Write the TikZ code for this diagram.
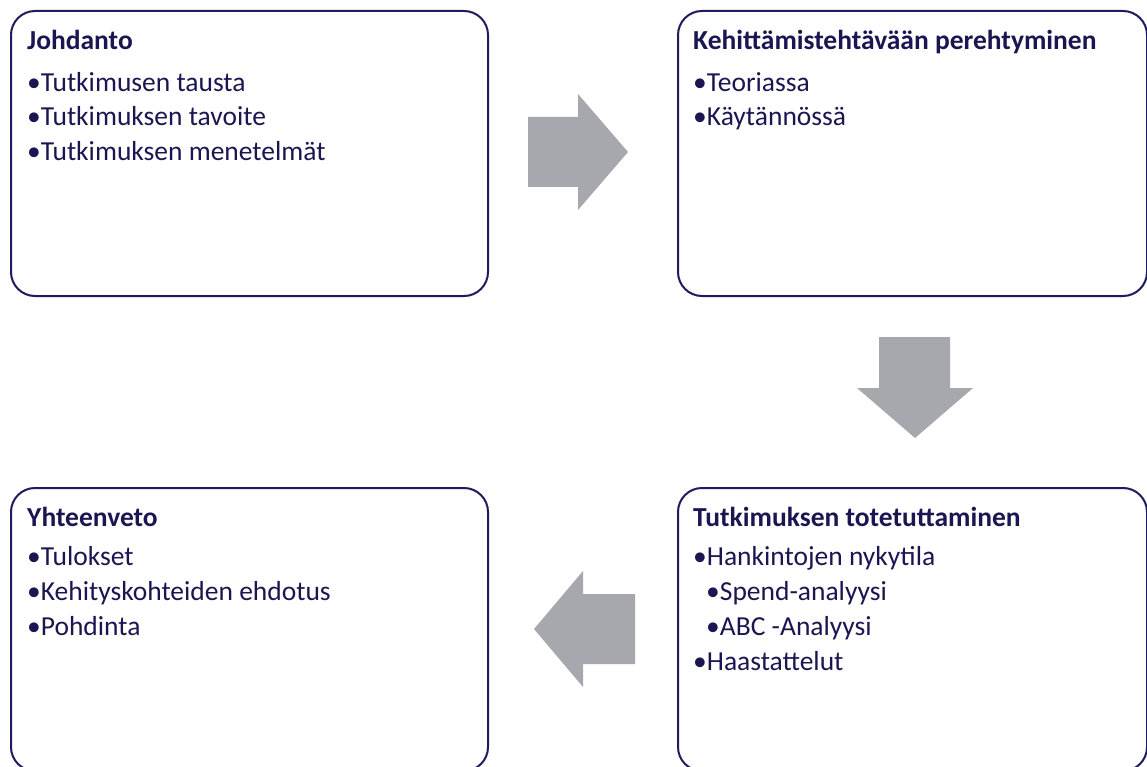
\documentclass[tikz,border=0pt]{standalone}
\usepackage{fontspec}
\setmainfont{Carlito}
\definecolor{frame}{RGB}{30,27,94}
\definecolor{ink}{RGB}{26,22,82}
\definecolor{arrowgray}{RGB}{167,168,173}
\begin{document}
\begin{tikzpicture}[x=1pt,y=-1pt,
  box/.style={draw=frame, line width=2pt, rounded corners=24pt, fill=white,
    inner sep=0pt, anchor=north west},
  title/.style={anchor=base west, inner sep=0pt, text=ink,
    font=\fontsize{27.5}{33}\selectfont\bfseries},
  item/.style={anchor=base west, inner sep=0pt, text=ink,
    font=\fontsize{27.5}{33}\selectfont},
  blockarrow/.style={fill=arrowgray, draw=none}]
\useasboundingbox (0,0) rectangle (1147,767);
\begin{scope}
\clip (0,0) rectangle (1147,767);

% the four stages
\node[box, minimum width=477pt, minimum height=285pt] (intro) at (10,10) {};
\node[box, minimum width=469pt, minimum height=285pt] (study) at (677,10) {};
\node[box, minimum width=469pt, minimum height=283pt] (exec) at (677,487) {};
\node[box, minimum width=477pt, minimum height=283pt] (summary) at (10,487) {};

% Johdanto
\node[title] (introT) at (27,50) {Johdanto};
\node[item] (intro1) at (27,92) {•Tutkimusen tausta};
\node[item] (intro2) at (27,126) {•Tutkimuksen tavoite};
\node[item] (intro3) at (27,161) {•Tutkimuksen menetelmät};

% Kehittämistehtävään perehtyminen
\node[title] (studyT) at (693,50) {Kehittämistehtävään perehtyminen};
\node[item] (study1) at (693,92) {•Teoriassa};
\node[item] (study2) at (693,126) {•Käytännössä};

% Tutkimuksen totetuttaminen
\node[title] (execT) at (693,526) {Tutkimuksen totetuttaminen};
\node[item] (exec1) at (693,565) {•Hankintojen nykytila};
\node[item] (exec2) at (706,600) {•Spend-analyysi};
\node[item] (exec3) at (706,635) {•ABC -Analyysi};
\node[item] (exec4) at (693,670) {•Haastattelut};

% Yhteenveto
\node[title] (summaryT) at (27,526) {Yhteenveto};
\node[item] (summary1) at (27,565) {•Tulokset};
\node[item] (summary2) at (27,600) {•Kehityskohteiden ehdotus};
\node[item] (summary3) at (27,635) {•Pohdinta};

% block arrows between the stages
\fill[blockarrow] (528,117) -- (578,117) -- (578,94) -- (628,152)
  -- (578,210) -- (578,187) -- (528,187) -- cycle;
\fill[blockarrow] (879,337) -- (950,337) -- (950,388) -- (973,388)
  -- (915,438) -- (857,388) -- (879,388) -- cycle;
\fill[blockarrow] (635,594) -- (583,594) -- (583,571) -- (534,629)
  -- (583,687) -- (583,664) -- (635,664) -- cycle;
\end{scope}
\end{tikzpicture}
\end{document}
